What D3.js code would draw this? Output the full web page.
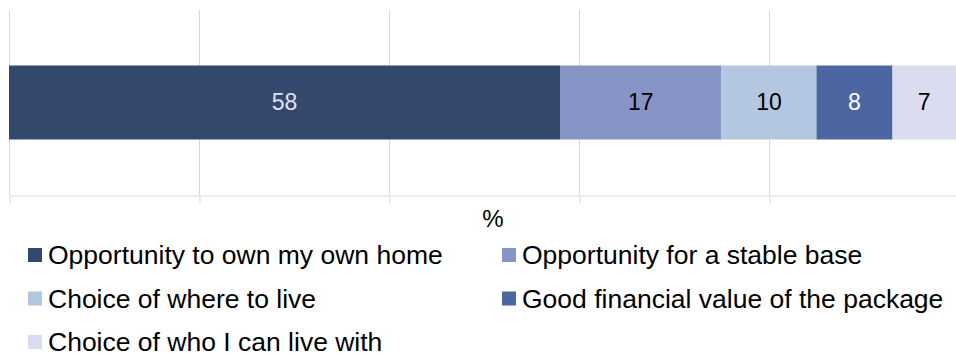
<!DOCTYPE html>
<html>
<head>
<meta charset="utf-8">
<script src="https://cdn.jsdelivr.net/npm/d3@7"></script>
<style>
  html, body { margin: 0; padding: 0; background: #fff; }
  svg { display: block; font-family: "Liberation Sans", Arial, sans-serif; }
</style>
</head>
<body>
<svg id="chart" width="956" height="356"></svg>
<script>
// Reasons for choosing the scheme (% of respondents)
const categories = [
  "Opportunity to own my own home",
  "Opportunity for a stable base",
  "Choice of where to live",
  "Good financial value of the package",
  "Choice of who I can live with"
];
const values = [58, 17, 10, 8, 7];
const colors = ["#34486E", "#8794C6", "#B4C7E1", "#4C66A1", "#D9DDEF"];
const labelColors = ["#DDE3F0", "#000000", "#000000", "#FFFFFF", "#000000"];
const xTicks = [0, 20, 40, 60, 80, 100];
const axisTitle = "%";

const svg = d3.select("#chart");

const x = d3.scaleLinear().domain([0, 100]).range([9, 959]);
const y = d3.scaleBand().domain(["all"]).range([10, 195]).paddingInner(0).paddingOuter(0.75);

// vertical gridlines
svg.append("g")
  .selectAll("line")
  .data(xTicks)
  .join("line")
  .attr("x1", d => x(d) + 0.5).attr("x2", d => x(d) + 0.5)
  .attr("y1", 10).attr("y2", 195)
  .attr("stroke", "#D9D9D9").attr("stroke-width", 1);

// axis baseline with tick marks below
const axis = svg.append("g")
  .attr("transform", "translate(0.5,195.5)")
  .call(d3.axisBottom(x).tickValues(xTicks).tickSize(8).tickSizeOuter(0).tickFormat(""));
axis.selectAll("path, line").attr("stroke", "#D9D9D9");

// stacked segments
let cum = 0;
const segs = values.map((v, i) => {
  const s = { i, v, x0: cum, x1: cum + v };
  cum += v;
  return s;
});

const bandY = y("all");
const bandH = y.bandwidth();

svg.append("g")
  .selectAll("rect")
  .data(segs)
  .join("rect")
  .attr("x", d => x(d.x0))
  .attr("y", bandY)
  .attr("width", d => x(d.x1) - x(d.x0))
  .attr("height", bandH)
  .attr("fill", d => colors[d.i]);

svg.append("g")
  .selectAll("text")
  .data(segs)
  .join("text")
  .attr("x", d => (x(d.x0) + Math.min(x(d.x1), 956)) / 2)
  .attr("y", bandY + bandH / 2 - 1)
  .attr("dy", "0.35em")
  .attr("text-anchor", "middle")
  .attr("font-size", 23)
  .attr("fill", d => labelColors[d.i])
  .text(d => d.v);

// axis title
svg.append("text")
  .attr("x", 493).attr("y", 227)
  .attr("text-anchor", "middle")
  .attr("font-size", 24)
  .attr("fill", "#000")
  .text(axisTitle);

// legend, two columns
const legendCols = [28, 502];
const legendRows = [255, 298.5, 342];
const legend = svg.append("g")
  .selectAll("g")
  .data(categories)
  .join("g")
  .attr("transform", (d, i) => `translate(${legendCols[i % 2]},${legendRows[Math.floor(i / 2)]})`);

legend.append("rect")
  .attr("x", 0).attr("y", -7)
  .attr("width", 14).attr("height", 14)
  .attr("fill", (d, i) => colors[i]);

legend.append("text")
  .attr("x", 20).attr("y", 0)
  .attr("dy", "0.35em")
  .attr("font-size", 26.5)
  .attr("fill", "#000")
  .text(d => d);
</script>
</body>
</html>
